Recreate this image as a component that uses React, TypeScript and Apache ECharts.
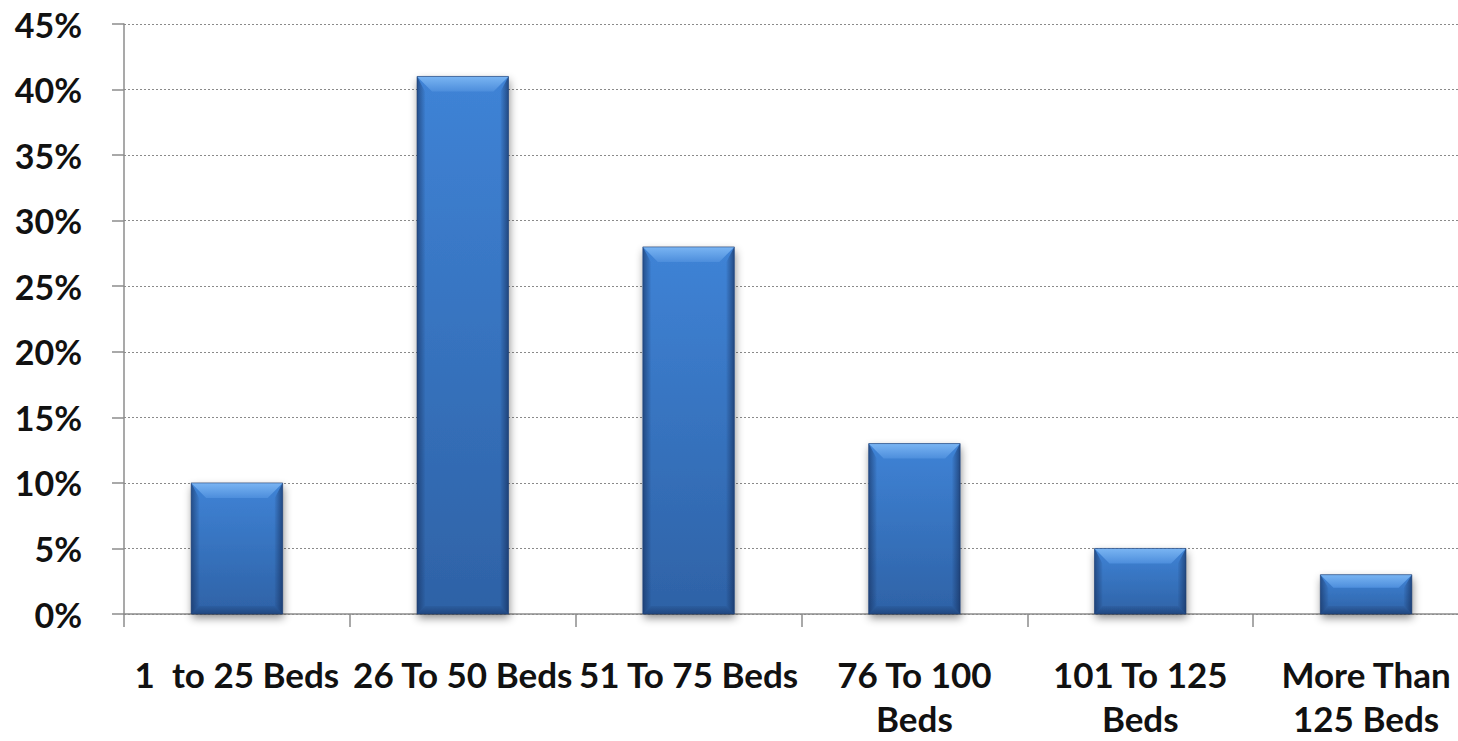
import React, { useEffect, useRef } from "react";
import * as echarts from "echarts";

const categories = [
  "1  to 25 Beds",
  "26 To 50 Beds",
  "51 To 75 Beds",
  "76 To 100\nBeds",
  "101 To 125\nBeds",
  "More Than\n125 Beds",
];
const values = [10, 41, 28, 13, 5, 3];
const yTicks = { min: 0, max: 45, interval: 5 };

const FONT = "Lato";

function renderBar(params: any, api: any) {
  const xv = api.value(0);
  const yv = api.value(1);
  const top = api.coord([xv, yv]);
  const base = api.coord([xv, 0]);
  const band = api.size([1, 0])[0];
  const w = band * 0.405;
  const x0 = top[0] - w / 2;
  const x1 = top[0] + w / 2;
  const y0 = top[1];
  const y1 = base[1];
  const h = y1 - y0;
  const b = Math.min(15, h / 3);
  const s = 8;
  return {
    type: "group",
    children: [
      {
        type: "rect",
        shape: { x: x0, y: y0, width: w, height: h },
        style: {
          fill: new echarts.graphic.LinearGradient(0, 0, 0, 1, [
            { offset: 0, color: "#3f83d6" },
            { offset: 1, color: "#2e62a6" },
          ]),
          shadowBlur: 8,
          shadowOffsetX: 1,
          shadowOffsetY: 4,
          shadowColor: "rgba(0,0,0,0.45)",
        },
      },
      {
        type: "polygon",
        shape: { points: [[x0, y0], [x0 + s, y0 + b], [x0 + s, y1 - s], [x0, y1]] },
        style: {
          fill: new echarts.graphic.LinearGradient(0, 0, 1, 0, [
            { offset: 0, color: "rgba(20,45,90,0.6)" },
            { offset: 1, color: "rgba(20,45,90,0.05)" },
          ]),
        },
      },
      {
        type: "polygon",
        shape: { points: [[x1, y0], [x1 - s, y0 + b], [x1 - s, y1 - s], [x1, y1]] },
        style: {
          fill: new echarts.graphic.LinearGradient(1, 0, 0, 0, [
            { offset: 0, color: "rgba(20,45,90,0.65)" },
            { offset: 1, color: "rgba(20,45,90,0.05)" },
          ]),
        },
      },
      {
        type: "polygon",
        shape: { points: [[x0, y1], [x0 + s, y1 - s], [x1 - s, y1 - s], [x1, y1]] },
        style: {
          fill: new echarts.graphic.LinearGradient(0, 1, 0, 0, [
            { offset: 0, color: "rgba(20,45,90,0.5)" },
            { offset: 1, color: "rgba(20,45,90,0.1)" },
          ]),
        },
      },
      {
        type: "polygon",
        shape: { points: [[x0, y0], [x1, y0], [x1 - b, y0 + b], [x0 + b, y0 + b]] },
        style: {
          fill: new echarts.graphic.LinearGradient(0, 0, 0, 1, [
            { offset: 0, color: "#7ab5f3" },
            { offset: 1, color: "#4d8edc" },
          ]),
        },
      },
      {
        type: "rect",
        shape: { x: x0, y: y0, width: w, height: h },
        style: { fill: "none", stroke: "rgba(30,60,110,0.6)", lineWidth: 1 },
      },
    ],
  };
}

export default function App() {
  const ref = useRef<HTMLDivElement>(null);
  useEffect(() => {
    document.body.style.margin = "0";
    if (!ref.current) return;
    const chart = echarts.init(ref.current, null, { renderer: "svg" });
    chart.setOption({
      animation: false,
      backgroundColor: "#ffffff",
      grid: {
        left: 124,
        top: 24,
        bottom: 127,
        width: 1355,
        outerBoundsMode: "none",
        containLabel: false,
      },
      xAxis: {
        type: "category",
        data: categories,
        axisLine: { show: true, lineStyle: { color: "#8c8c8c", width: 1.5 } },
        axisTick: { show: true, length: 13, lineStyle: { color: "#8c8c8c", width: 1.5 } },
        axisLabel: {
          interval: 0,
          margin: 38,
          color: "#111111",
          fontFamily: FONT,
          fontWeight: "bold",
          fontSize: 35,
          lineHeight: 44,
          verticalAlign: "top",
        },
        splitLine: { show: false },
      },
      yAxis: {
        type: "value",
        min: yTicks.min,
        max: yTicks.max,
        interval: yTicks.interval,
        axisLine: { show: true, lineStyle: { color: "#8c8c8c", width: 1.5 } },
        axisTick: { show: true, length: 12, lineStyle: { color: "#8c8c8c", width: 1.5 } },
        axisLabel: {
          formatter: "{value}%",
          margin: 42,
          color: "#111111",
          fontFamily: FONT,
          fontWeight: "bold",
          fontSize: 34,
        },
        splitLine: {
          show: true,
          lineStyle: { type: [2, 2], color: "#8a8a8a", width: 1.2 },
        },
      },
      series: [
        {
          type: "custom",
          renderItem: renderBar,
          data: values.map((v, i) => [i, v]),
          encode: { x: 0, y: 1 },
          clip: false,
        },
      ],
    });
    return () => chart.dispose();
  }, []);
  return (
    <div
      ref={ref}
      style={{ position: "fixed", left: 0, top: 0, width: 1458, height: 741 }}
    />
  );
}
